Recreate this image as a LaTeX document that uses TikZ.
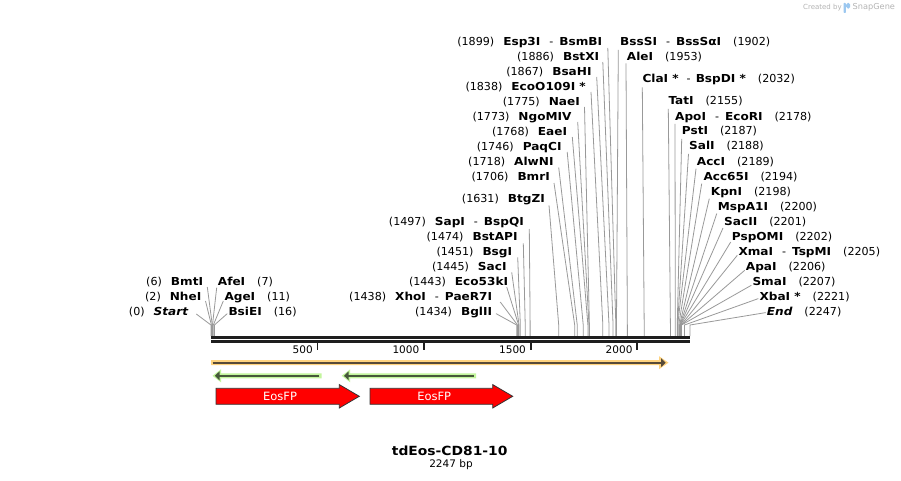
\documentclass[tikz,border=0pt]{standalone}
\usepackage{fontspec}
\setmainfont{DejaVu Sans}
\newfontfamily\rfn{DejaVu Sans}[FakeStretch=1.01]
\newfontfamily\bfn{DejaVu Sans}[FakeStretch=1.1]
\definecolor{cutgray}{HTML}{999999}
\definecolor{barc}{HTML}{1E1E1E}
\definecolor{orl}{HTML}{FFD37E}
\definecolor{ord}{HTML}{574A38}
\definecolor{grl}{HTML}{C2F59C}
\definecolor{grd}{HTML}{46583A}
\definecolor{arrred}{HTML}{FF0000}
\definecolor{arrbd}{HTML}{333333}
\definecolor{logog}{HTML}{B4B4B4}
\definecolor{logob}{HTML}{9CC8F0}
\newcommand\nm[1]{{\bfn\bfseries #1}}
\newcommand\nmi[1]{{\bfn\bfseries\itshape #1}}
\newcommand\numl[1]{{\rfn #1}}
\newcommand\gp{\hspace{9pt}}
\newcommand\gr{\hspace{12pt}}
\newcommand\dsh{\hspace{9pt}\numl{-}\hspace{6pt}}
\tikzset{
  lab/.style={inner sep=0pt, text height=8.4pt, text depth=2.2pt, font=\fontsize{11}{12}\selectfont},
  cut/.style={draw=cutgray, line width=0.8pt},
  ticklab/.style={inner sep=0pt, anchor=base east, font=\rfn\fontsize{10.4}{12}\selectfont},
  featlab/.style={inner sep=0pt, text=white, font=\rfn\fontsize{11.4}{12}\selectfont},
}
% left label: name, x right, y, bp, text, dx, dy
\newcommand\cutL[7]{%
  \node[lab,anchor=east] (#1) at (#2,#3) {#5};
  \coordinate (#1-s) at ({211+#4*0.213173},325);
  \coordinate (#1-b) at ({211+#4*0.213173},336);
  \draw[cut] ([shift={(#6,#7)}]#1.east) -- (#1-s) -- (#1-b);
}
% right label: name, x left, y, bp, text, dx, dy
\newcommand\cutR[7]{%
  \node[lab,anchor=west] (#1) at (#2,#3) {#5};
  \coordinate (#1-s) at ({211+#4*0.213173},325);
  \coordinate (#1-b) at ({211+#4*0.213173},336);
  \draw[cut] ([shift={(#6,#7)}]#1.west) -- (#1-s) -- (#1-b);
}
\begin{document}
\begin{tikzpicture}[x=1pt,y=-1pt]
\useasboundingbox (0,0) rectangle (901,481);
\fill[white] (0,0) rectangle (901,481);

% logo
\node[inner sep=0pt, anchor=west, text=logog, font=\fontsize{7}{8}\selectfont] (created) at (803,7.5) {Created by};
\fill[logob, rounded corners=0.8pt] (843.6,2.8) rectangle (845.8,13);
\fill[logob, rounded corners=1.8pt] (846.2,2.8) -- (850.2,2.8) -- (850.2,8.6) -- (846.2,8.6) -- cycle;
\node[inner sep=0pt, anchor=west, text=logog, font=\fontsize{8.2}{9}\selectfont] (snapgene) at (852.5,7.5) {SnapGene};

% left stack
\cutL{esp}{602.3}{42}{1899}{\numl{(1899)}\gp\nm{Esp3I}\dsh\nm{BsmBI}}{5.5}{6}
\cutL{bstxi}{599.3}{57}{1886}{\numl{(1886)}\gp\nm{BstXI}}{3.5}{5}
\cutL{bsahi}{591.7}{72}{1867}{\numl{(1867)}\gp\nm{BsaHI}}{5}{5}
\cutL{ecoo}{586}{87}{1838}{\numl{(1838)}\gp\nm{EcoO109I *}}{5}{5}
\cutL{naei}{580}{102}{1775}{\numl{(1775)}\gp\nm{NaeI}}{4.5}{5}
\cutL{ngo}{571.7}{117}{1773}{\numl{(1773)}\gp\nm{NgoMIV}}{6}{5}
\cutL{eaei}{567.3}{132}{1768}{\numl{(1768)}\gp\nm{EaeI}}{5}{5}
\cutL{paqci}{561.7}{147}{1746}{\numl{(1746)}\gp\nm{PaqCI}}{5.5}{5}
\cutL{alwni}{553.7}{162}{1718}{\numl{(1718)}\gp\nm{AlwNI}}{5}{5.5}
\cutL{bmri}{550}{177}{1706}{\numl{(1706)}\gp\nm{BmrI}}{4}{6}
\cutL{btgzi}{545}{199.3}{1631}{\numl{(1631)}\gp\nm{BtgZI}}{4}{6}
\cutL{sapi}{524}{222}{1497}{\numl{(1497)}\gp\nm{SapI}\dsh\nm{BspQI}}{5.3}{7}
\cutL{bstapi}{517.7}{237}{1474}{\numl{(1474)}\gp\nm{BstAPI}}{5.6}{6.3}
\cutL{bsgi}{512.3}{252}{1451}{\numl{(1451)}\gp\nm{BsgI}}{5.4}{5.3}
\cutL{saci}{506.7}{267}{1445}{\numl{(1445)}\gp\nm{SacI}}{5}{5.3}
\cutL{eco53}{508.3}{282}{1443}{\numl{(1443)}\gp\nm{Eco53kI}}{-1.6}{5}
\cutL{xhoi}{492.3}{297}{1438}{\numl{(1438)}\gp\nm{XhoI}\dsh\nm{PaeR7I}}{8}{5}
\cutL{bglii}{492.3}{312}{1434}{\numl{(1434)}\gp\nm{BglII}}{3.7}{1.6}

% start cluster
\cutL{bmti}{203.3}{282}{6}{\numl{(6)}\gp\nm{BmtI}}{4}{5}
\cutL{nhei}{201.5}{297}{2}{\numl{(2)}\gp\nm{NheI}}{4}{4}
\cutL{startl}{188.3}{312}{0}{\numl{(0)}\gp\nmi{Start}}{8}{2}
\cutR{afei}{217.7}{282}{7}{\nm{AfeI}\gr\numl{(7)}}{-1}{5.6}
\cutR{agei}{224.3}{297}{11}{\nm{AgeI}\gr\numl{(11)}}{-1}{4}
\cutR{bsiei}{228.3}{312}{16}{\nm{BsiEI}\gr\numl{(16)}}{-1}{1.6}

% right stack
\cutR{bsssi}{620}{42}{1902}{\nm{BssSI}\dsh\nm{BssSαI}\gr\numl{(1902)}}{-1.7}{8}
\cutR{alei}{626.7}{57}{1953}{\nm{AleI}\gr\numl{(1953)}}{-0.7}{6.5}
\cutR{clai}{642.3}{79.3}{2032}{\nm{ClaI *}\hspace{8pt}\numl{-}\hspace{5pt}\nm{BspDI *}\gr\numl{(2032)}}{0}{8}
\cutR{tati}{668.3}{101.8}{2155}{\nm{TatI}\gr\numl{(2155)}}{0}{7}
\cutR{apoi}{675}{117}{2178}{\nm{ApoI}\dsh\nm{EcoRI}\gr\numl{(2178)}}{0}{7}
\cutR{psti}{681.7}{131.8}{2187}{\nm{PstI}\gr\numl{(2187)}}{0}{7}
\cutR{sali}{689}{146.8}{2188}{\nm{SalI}\gr\numl{(2188)}}{-0.5}{7}
\cutR{acci}{696.7}{162}{2189}{\nm{AccI}\gr\numl{(2189)}}{-0.7}{6.6}
\cutR{acc65}{703.3}{177}{2194}{\nm{Acc65I}\gr\numl{(2194)}}{-1.6}{6.6}
\cutR{kpni}{710.7}{192}{2198}{\nm{KpnI}\gr\numl{(2198)}}{-1.4}{6.6}
\cutR{mspa}{717.7}{207}{2200}{\nm{MspA1I}\gr\numl{(2200)}}{-1}{6.6}
\cutR{sacii}{724}{222}{2201}{\nm{SacII}\gr\numl{(2201)}}{-1}{6}
\cutR{pspomi}{731.7}{237}{2202}{\nm{PspOMI}\gr\numl{(2202)}}{-1}{5}
\cutR{xmai}{738.3}{252}{2205}{\nm{XmaI}\dsh\nm{TspMI}\gr\numl{(2205)}}{-1}{3.3}
\cutR{apai}{745.7}{267}{2206}{\nm{ApaI}\gr\numl{(2206)}}{-1}{3.3}
\cutR{smai}{752.3}{282}{2207}{\nm{SmaI}\gr\numl{(2207)}}{-1}{3.3}
\cutR{xbai}{759.3}{297}{2221}{\nm{XbaI *}\gr\numl{(2221)}}{-1}{1.6}
\cutR{endl}{766.7}{312}{2247}{\nmi{End}\gr\numl{(2247)}}{-1}{0.6}

% sequence bar
\coordinate (b0) at (211,337.4);
\coordinate (b1) at (690,337.4);
\coordinate (c0) at (211,341.5);
\coordinate (c1) at (690,341.5);
\draw[barc, line width=2.8pt] (b0) -- (b1);
\draw[barc, line width=2.2pt] (c0) -- (c1);

% ticks
\foreach \v/\t in {500/t1,1000/t2,1500/t3,2000/t4}{
  \coordinate (\t a) at ({211+\v*0.213173},342.5);
  \coordinate (\t b) at ({211+\v*0.213173},350);
  \draw[barc, line width=1.8pt] (\t a) -- (\t b);
  \node[ticklab] (\t l) at ({211+\v*0.213173-4.7},353.3) {\v};
}

% orange feature
\fill[orl] (211,360.2) -- (659,360.2) -- (659,356.2) -- (668.5,362.7) -- (659,369.2) -- (659,365.2) -- (211,365.2) -- cycle;
\draw[ord, line width=1.6pt] (212.5,362.7) -- (661.5,362.7);
\fill[ord] (661,358.2) -- (665.7,362.7) -- (661,367.2) -- cycle;

% green features
\fill[grl] (321.7,373.3) -- (221,373.3) -- (221,369.3) -- (212.5,375.8) -- (221,382.3) -- (221,378.3) -- (321.7,378.3) -- cycle;
\draw[grd, line width=1.6pt] (319.3,375.8) -- (218,375.8);
\fill[grd] (219.5,371.3) -- (214.8,375.8) -- (219.5,380.3) -- cycle;
\fill[grl] (476,373.3) -- (350.2,373.3) -- (350.2,369.3) -- (341.7,375.8) -- (350.2,382.3) -- (350.2,378.3) -- (476,378.3) -- cycle;
\draw[grd, line width=1.6pt] (473.6,375.8) -- (347.2,375.8);
\fill[grd] (348.7,371.3) -- (344,375.8) -- (348.7,380.3) -- cycle;

% red EosFP arrows
\filldraw[fill=arrred, draw=arrbd, line width=0.8pt] (216,388.3) -- (339.3,388.3) -- (339.3,384.6) -- (359.3,396.3) -- (339.3,408) -- (339.3,404.3) -- (216,404.3) -- cycle;
\node[featlab] (eos1) at (280,396.3) {EosFP};
\filldraw[fill=arrred, draw=arrbd, line width=0.8pt] (370,388.3) -- (492.7,388.3) -- (492.7,384.6) -- (512.7,396.3) -- (492.7,408) -- (492.7,404.3) -- (370,404.3) -- cycle;
\node[featlab] (eos2) at (434.2,396.3) {EosFP};

% title
\node[inner sep=0pt, font=\bfn\bfseries\fontsize{12.6}{14}\selectfont] (title) at (449.7,450.7) {tdEos-CD81-10};
\node[inner sep=0pt, font=\rfn\fontsize{10.4}{12}\selectfont] (len) at (451,464.3) {2247 bp};
\end{tikzpicture}
\end{document}
